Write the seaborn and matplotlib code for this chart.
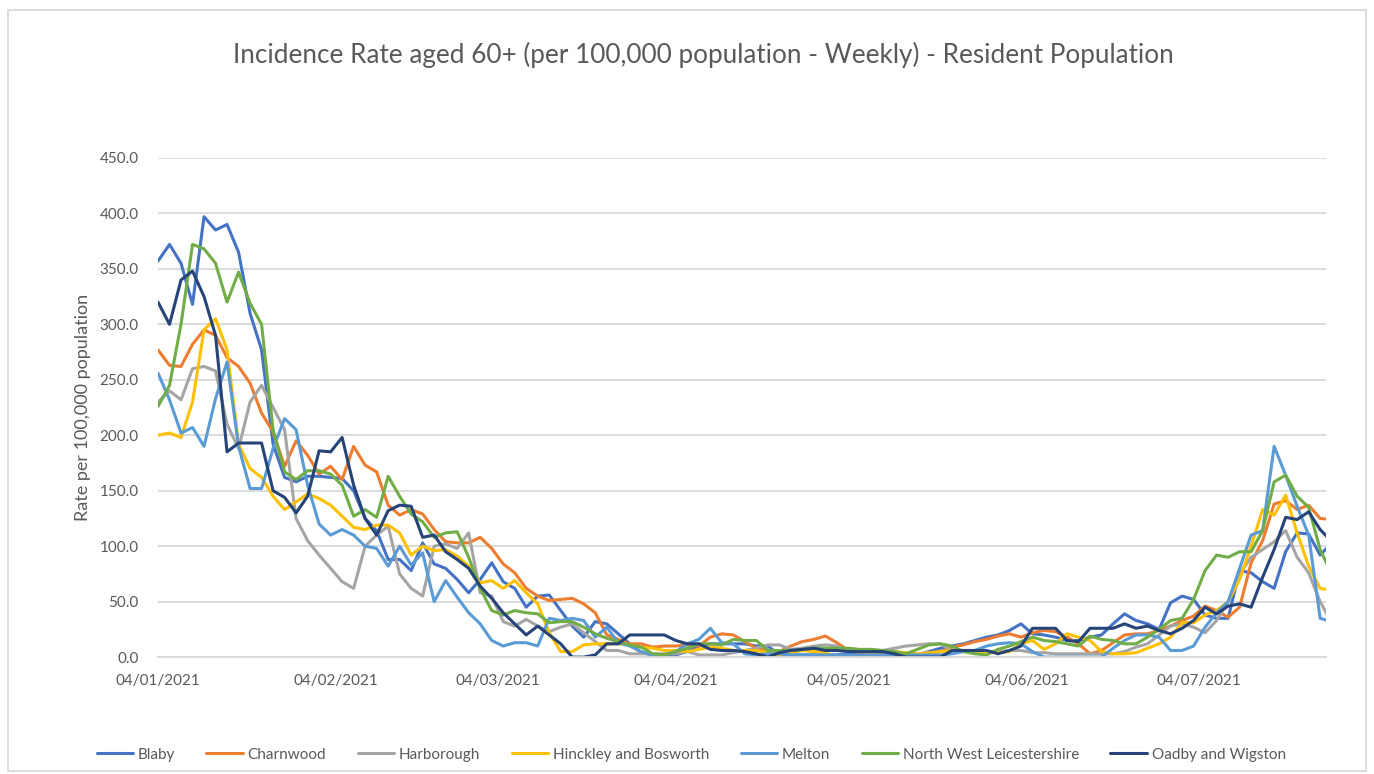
import pandas as pd
import matplotlib.pyplot as plt
import matplotlib.dates as mdates
from matplotlib.patches import Rectangle
import seaborn as sns

# Values every 2 days from 04/01/2021
dates = pd.date_range('2021-01-04', periods=103, freq='2D')

blaby = [357, 372, 355, 318, 397, 385, 390, 365, 310, 277, 192, 162, 158,
         163, 163, 162, 161, 150, 125, 114, 88, 88, 78, 103, 84, 80, 70, 58,
         70, 85, 68, 62, 45, 55, 56, 42, 28, 18, 32, 30, 21, 12, 4, 2, 2, 2,
         5, 10, 12, 12, 12, 12, 10, 10, 2, 2, 2, 2, 2, 2, 3, 3, 2, 2, 2, 2,
         2, 5, 8, 10, 12, 15, 18, 20, 24, 30, 21, 20, 18, 15, 15, 18, 20, 30,
         39, 33, 30, 25, 49, 55, 52, 38, 35, 35, 78, 76, 68, 62, 95, 112,
         111, 92, 103]
charnwood = [277, 263, 262, 282, 295, 290, 270, 262, 247, 220, 203, 172,
             195, 182, 165, 172, 160, 190, 173, 167, 137, 128, 133, 129, 115,
             104, 103, 103, 108, 98, 84, 76, 62, 55, 51, 52, 53, 48, 40, 20,
             16, 12, 12, 9, 10, 10, 11, 10, 18, 21, 20, 14, 8, 6, 5, 10, 14,
             16, 19, 13, 6, 3, 3, 2, 2, 2, 2, 3, 5, 9, 11, 14, 16, 19, 21, 18,
             22, 24, 23, 18, 12, 3, 6, 13, 20, 21, 21, 24, 28, 33, 37, 46, 42,
             36, 45, 85, 105, 138, 141, 133, 137, 125, 124]
harborough = [230, 240, 232, 260, 262, 258, 210, 188, 230, 245, 225, 205,
              125, 105, 92, 80, 68, 62, 100, 110, 118, 75, 62, 55, 100, 102,
              98, 112, 58, 55, 32, 28, 34, 28, 23, 27, 30, 22, 14, 6, 6, 3, 3,
              3, 3, 3, 5, 2, 2, 2, 4, 6, 8, 11, 11, 7, 8, 10, 11, 10, 6, 5, 5,
              6, 8, 10, 11, 12, 12, 6, 5, 5, 5, 5, 6, 6, 4, 4, 3, 3, 3, 3, 3,
              3, 5, 9, 12, 20, 28, 30, 27, 22, 33, 50, 75, 90, 97, 104, 114,
              90, 76, 50, 31]
hinckley = [200, 202, 198, 230, 295, 305, 277, 192, 170, 162, 145, 133,
            140, 147, 143, 137, 127, 117, 115, 119, 119, 112, 92, 100, 96, 97,
            91, 82, 67, 69, 62, 69, 58, 48, 22, 5, 5, 11, 12, 12, 12, 11, 9,
            8, 6, 6, 5, 7, 9, 8, 6, 6, 6, 4, 2, 4, 6, 5, 4, 0, 0, 1, 3, 5, 5,
            4, 3, 4, 5, 6, 6, 5, 5, 4, 5, 12, 15, 7, 12, 21, 18, 15, 5, 3, 3,
            4, 8, 12, 18, 31, 31, 38, 42, 50, 70, 100, 133, 128, 146, 112, 82,
            62, 60]
melton = [256, 232, 202, 207, 190, 233, 266, 190, 152, 152, 188, 215, 205,
          155, 120, 110, 115, 110, 100, 98, 82, 100, 83, 94, 50, 69, 54, 40,
          30, 15, 10, 13, 13, 10, 35, 33, 35, 33, 18, 27, 13, 10, 5, 2, 2, 5,
          12, 16, 26, 13, 12, 3, 2, 3, 3, 2, 2, 2, 2, 2, 2, 2, 2, 2, 2, 2, 2,
          2, 2, 3, 5, 6, 10, 12, 13, 12, 5, 0, 0, 0, 0, 0, 0, 8, 15, 20, 20,
          18, 6, 6, 10, 27, 40, 50, 80, 110, 114, 190, 164, 136, 110, 35, 32]
nw_leics = [226, 245, 300, 372, 368, 355, 320, 347, 319, 300, 205, 167, 160,
            168, 168, 165, 155, 127, 133, 126, 163, 145, 129, 122, 108, 112,
            113, 90, 62, 42, 38, 42, 40, 39, 31, 32, 32, 27, 21, 17, 14, 11,
            9, 3, 2, 5, 8, 12, 12, 11, 16, 15, 15, 6, 6, 6, 7, 8, 8, 8, 8, 7,
            7, 6, 5, 3, 7, 11, 12, 10, 5, 3, 2, 7, 10, 14, 18, 15, 14, 12, 10,
            19, 16, 15, 12, 12, 18, 25, 33, 35, 52, 78, 92, 90, 95, 95, 114,
            158, 164, 145, 135, 97, 75]
oadby = [320, 300, 340, 348, 325, 290, 185, 193, 193, 193, 150, 144, 130,
         145, 186, 185, 198, 155, 125, 110, 132, 137, 136, 108, 110, 95, 88,
         80, 64, 53, 40, 30, 20, 28, 20, 12, 0, 0, 2, 12, 12, 20, 20, 20, 20,
         15, 12, 12, 7, 6, 6, 5, 3, 0, 4, 6, 7, 8, 6, 6, 5, 5, 5, 5, 3, 0, 0,
         0, 0, 6, 6, 6, 6, 3, 6, 10, 26, 26, 26, 15, 14, 26, 26, 26, 30, 26,
         28, 24, 21, 26, 33, 45, 39, 46, 48, 45, 72, 97, 126, 124, 131, 115,
         104]

areas = ['Blaby', 'Charnwood', 'Harborough', 'Hinckley and Bosworth',
         'Melton', 'North West Leicestershire', 'Oadby and Wigston']
colours = ['#4472C4', '#ED7D31', '#A5A5A5', '#FFC000', '#5B9BD5',
           '#70AD47', '#264478']

df = pd.DataFrame({'Date': dates, areas[0]: blaby, areas[1]: charnwood,
                   areas[2]: harborough, areas[3]: hinckley, areas[4]: melton,
                   areas[5]: nw_leics, areas[6]: oadby})
long_df = df.melt(id_vars='Date', var_name='Area', value_name='Rate')

sns.set_theme(style='white')
plt.rcParams['font.family'] = ['Lato', 'DejaVu Sans']
text_col = '#595959'
grid_col = '#D9D9D9'

fig = plt.figure(figsize=(13.74, 7.74), dpi=100)
ax = fig.add_axes([0.115, 0.151, 0.85, 0.645])

sns.lineplot(data=long_df, x='Date', y='Rate', hue='Area', hue_order=areas,
             palette=colours, linewidth=2.2, ax=ax)

ax.set_ylim(0, 450)
ax.set_yticks(range(0, 451, 50))
ax.set_yticklabels([f'{v:.1f}' for v in range(0, 451, 50)])
ax.set_xlim(dates[0], pd.Timestamp('2021-07-26'))
ax.xaxis.set_major_locator(mdates.MonthLocator(bymonthday=4))
ax.xaxis.set_major_formatter(mdates.DateFormatter('%d/%m/%Y'))

ax.grid(axis='y', color=grid_col, linewidth=1.3)
ax.set_axisbelow(True)
for side in ['top', 'right', 'left']:
    ax.spines[side].set_visible(False)
ax.spines['bottom'].set_color(grid_col)
ax.spines['bottom'].set_linewidth(1.3)
ax.tick_params(axis='y', length=0, labelsize=11, labelcolor=text_col, pad=14)
ax.tick_params(axis='x', length=6, width=1.3, color=grid_col, direction='out',
               labelsize=11, labelcolor=text_col, pad=6)
ax.set_xlabel('')
ax.set_ylabel('Rate per 100,000 population', fontsize=13, color=text_col,
              labelpad=6)

handles, labels = ax.get_legend_handles_labels()
ax.get_legend().remove()
fig.legend(handles, labels, loc='center', bbox_to_anchor=(0.503, 0.025),
           ncol=7, frameon=False, fontsize=11, labelcolor=text_col,
           handlelength=2.4, handletextpad=0.3, columnspacing=2.05)

fig.text(0.512, 0.929, 'Incidence Rate aged 60+ (per 100,000 population - '
         'Weekly) - Resident Population', ha='center', va='center',
         fontsize=18.8, color=text_col)

fig.patches.append(Rectangle((0.006, 0.004), 0.988, 0.983,
                             transform=fig.transFigure, fill=False,
                             edgecolor=grid_col, linewidth=1.3))

fig.savefig('out.png', dpi=100)
